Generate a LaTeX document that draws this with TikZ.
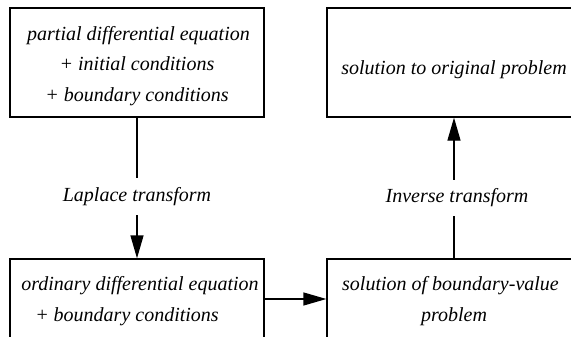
\documentclass[tikz,border=0pt]{standalone}
\usepackage{fontspec}
\setmainfont{Liberation Serif}
\usetikzlibrary{positioning,arrows.meta}

\begin{document}
\begin{tikzpicture}[
    x=1pt, y=-1pt,
    % boxes and connectors
    stagebox/.style={draw, line width=1.3pt, minimum width=254pt, align=center,
                     font=\fontsize{20}{31}\selectfont\itshape, inner sep=0pt,
                     text depth=6pt},
    flow/.style={line width=1.3pt, -{Triangle[length=23pt, width=13pt]}},
    flowlabel/.style={fill=white, inner xsep=1pt, inner ysep=9pt,
                      font=\fontsize{20}{22}\selectfont\itshape}
]
\useasboundingbox (0,0) rectangle (571,337);
\clip (0,0) rectangle (571,337);

% the four stages
\node[stagebox, minimum height=109pt, text height=85pt] (pde) at (137,62.5)
    {\hspace*{3pt}partial differential equation\\ + initial conditions\\ + boundary conditions};
\node[stagebox, minimum height=109pt, text height=30pt] (sol) at (454,62.5)
    {solution to original problem};
\node[stagebox, minimum height=82pt, text height=49pt] (ode) at (137,300)
    {\hspace*{6pt}ordinary differential equation\\ + boundary conditions\hspace*{20pt}};
\node[stagebox, minimum height=82pt, text height=49pt] (bvp) at (454,300)
    {solution of boundary-value\hspace*{7pt}\\ problem};

% transforms between them
\draw[flow] (pde) -- node[flowlabel, pos=0.56] (lap) {Laplace transform} (ode);
\draw[flow] (ode.east |- 0,299) -- (bvp.west |- 0,299);
\draw[flow] (bvp) -- node[flowlabel, pos=0.43, xshift=3pt] (inv) {Inverse transform} (sol);

\end{tikzpicture}
\end{document}
